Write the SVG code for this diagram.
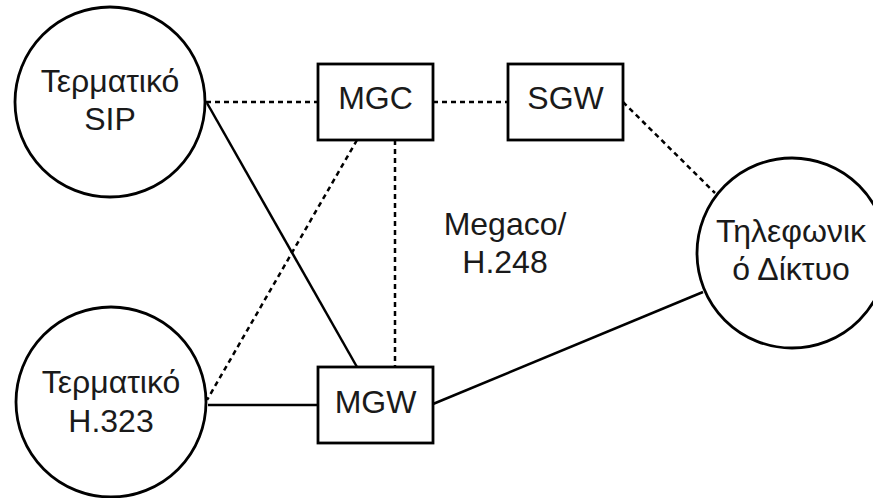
<svg xmlns="http://www.w3.org/2000/svg" width="873" height="498" viewBox="0 0 873 498">
<style>
.shape{fill:#fff;stroke:#000;stroke-width:2.8}
.t{font-family:"Liberation Sans",Arial,sans-serif;font-size:32px;fill:#1a1a1a;text-anchor:middle}
.solid{stroke:#000;stroke-width:2.5;fill:none}
.dash{stroke:#000;stroke-width:2.5;fill:none;stroke-dasharray:5,4}
</style>
<rect width="873" height="498" fill="#fff"/>
<g id="connectors">
<line class="dash" x1="206" y1="102" x2="318" y2="102"/>
<line class="dash" x1="433" y1="102" x2="508" y2="102"/>
<line class="dash" x1="623" y1="102" x2="715" y2="193"/>
<line class="solid" x1="207" y1="103" x2="357" y2="367"/>
<line class="dash" x1="357" y1="140" x2="207" y2="400"/>
<line class="dash" x1="395" y1="140" x2="395" y2="367"/>
<line class="solid" x1="208" y1="405" x2="318" y2="405"/>
<line class="solid" x1="433" y1="404" x2="703" y2="292"/>
</g>
<g id="sip">
<circle class="shape" cx="110" cy="102" r="95"/>
<text class="t" x="110" y="92">Τερματικό</text>
<text class="t" x="110" y="130">SIP</text>
</g>
<g id="h323">
<circle class="shape" cx="111" cy="402" r="95"/>
<text class="t" x="111" y="393">Τερματικό</text>
<text class="t" x="111" y="432">H.323</text>
</g>
<g id="mgc">
<rect class="shape" x="318" y="64" width="115" height="76"/>
<text class="t" x="375.5" y="109">MGC</text>
</g>
<g id="sgw">
<rect class="shape" x="508" y="64" width="115" height="76"/>
<text class="t" x="565.5" y="109">SGW</text>
</g>
<g id="mgw">
<rect class="shape" x="318" y="367" width="115" height="76"/>
<text class="t" x="375.5" y="413">MGW</text>
</g>
<g id="pstn">
<circle class="shape" cx="792" cy="253" r="95"/>
<text class="t" x="791" y="242">Τηλεφωνικ</text>
<text class="t" x="791" y="280">ό Δίκτυο</text>
</g>
<g id="label">
<text class="t" x="505" y="235">Megaco/</text>
<text class="t" x="505" y="273">H.248</text>
</g>
</svg>
